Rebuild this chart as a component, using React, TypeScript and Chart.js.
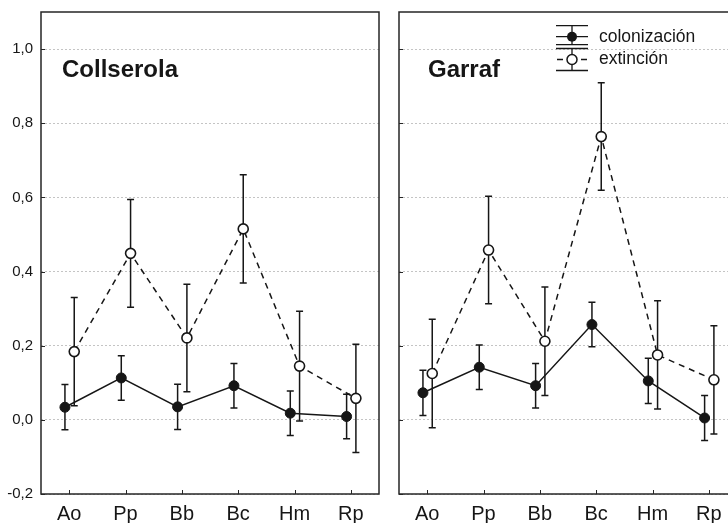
import React, { useEffect, useRef } from "react";
import { Chart, registerables } from "chart.js";

Chart.register(...registerables);

const categories = ["Ao", "Pp", "Bb", "Bc", "Hm", "Rp"];
const yTicks = [-0.2, 0, 0.2, 0.4, 0.6, 0.8, 1.0];
const yTickLabels = ["-0,2", "0,0", "0,2", "0,4", "0,6", "0,8", "1,0"];
const seriesNames = ["colonización", "extinción"];
const panelTitles = ["Collserola", "Garraf"];

const collserolaColMean = [0.034, 0.113, 0.035, 0.092, 0.018, 0.009];
const collserolaColErr = [0.061, 0.06, 0.061, 0.06, 0.06, 0.06];
const collserolaExtMean = [0.184, 0.449, 0.221, 0.515, 0.145, 0.058];
const collserolaExtErr = [0.146, 0.145, 0.145, 0.146, 0.148, 0.146];

const garrafColMean = [0.073, 0.142, 0.092, 0.257, 0.105, 0.005];
const garrafColErr = [0.061, 0.06, 0.06, 0.06, 0.061, 0.061];
const garrafExtMean = [0.125, 0.458, 0.212, 0.764, 0.175, 0.108];
const garrafExtErr = [0.146, 0.145, 0.146, 0.145, 0.146, 0.146];

const FONT = '"Liberation Sans", Arial, Helvetica, sans-serif';
const INK = "#161616";

type PanelCfg = {
  title: string;
  colMean: number[];
  colErr: number[];
  extMean: number[];
  extErr: number[];
  showYLabels: boolean;
  showLegend: boolean;
  canvasLeft: number;
  canvasWidth: number;
  yAxisWidth: number;
  padRight: number;
  titleDx: number;
};

function makeChart(canvas: HTMLCanvasElement, p: PanelCfg) {
  const colOffset = -0.075;
  const extOffset = 0.09;
  const decor = {
    id: "decor",
    beforeDatasetsDraw(chart: any) {
      const ctx = chart.ctx;
      const ys = chart.scales.y;
      ctx.save();
      ctx.strokeStyle = INK;
      ctx.lineWidth = 1.5;
      chart.data.datasets.forEach((ds: any, di: number) => {
        const meta = chart.getDatasetMeta(di);
        ds.errors.forEach((e: number, j: number) => {
          const pt = meta.data[j];
          const m = ds.data[j].y;
          const yt = ys.getPixelForValue(m + e);
          const yb = ys.getPixelForValue(m - e);
          const x = pt.x;
          ctx.beginPath();
          ctx.moveTo(x, yt);
          ctx.lineTo(x, yb);
          ctx.moveTo(x - 3.5, yt);
          ctx.lineTo(x + 3.5, yt);
          ctx.moveTo(x - 3.5, yb);
          ctx.lineTo(x + 3.5, yb);
          ctx.stroke();
        });
      });
      ctx.restore();
    },
    afterDraw(chart: any) {
      const ctx = chart.ctx;
      const a = chart.chartArea;
      const xs = chart.scales.x;
      const ys = chart.scales.y;
      ctx.save();
      ctx.strokeStyle = "#262626";
      ctx.lineWidth = 1.5;
      ctx.strokeRect(a.left, a.top, a.right - a.left, a.bottom - a.top);
      ctx.lineWidth = 1;
      ctx.beginPath();
      ys.ticks.forEach((t: any) => {
        const y = Math.round(ys.getPixelForValue(t.value)) + 0.5;
        ctx.moveTo(a.left, y);
        ctx.lineTo(a.left + 4, y);
      });
      xs.ticks.forEach((t: any) => {
        const x = Math.round(xs.getPixelForValue(t.value)) + 0.5;
        ctx.moveTo(x, a.bottom);
        ctx.lineTo(x, a.bottom - 4);
      });
      ctx.stroke();

      ctx.fillStyle = INK;
      ctx.font = `bold 24px ${FONT}`;
      ctx.textBaseline = "alphabetic";
      ctx.textAlign = "left";
      ctx.fillText(p.title, a.left + p.titleDx, 76.5);

      if (p.showLegend) {
        const cx = a.left + 173;
        const r1 = 36.7;
        const r2 = 59.5;
        ctx.strokeStyle = INK;
        ctx.lineWidth = 1.3;
        ctx.beginPath();
        ctx.moveTo(cx - 16, r1 - 11); ctx.lineTo(cx + 16, r1 - 11);
        ctx.moveTo(cx - 16, r1); ctx.lineTo(cx + 16, r1);
        ctx.moveTo(cx - 16, r1 + 8); ctx.lineTo(cx + 16, r1 + 8);
        ctx.moveTo(cx, r1 - 11); ctx.lineTo(cx, r1 + 8);
        ctx.moveTo(cx - 16, r2 - 11); ctx.lineTo(cx + 16, r2 - 11);
        ctx.moveTo(cx - 16, r2 + 11); ctx.lineTo(cx + 16, r2 + 11);
        ctx.moveTo(cx, r2 - 11); ctx.lineTo(cx, r2 + 11);
        ctx.moveTo(cx - 15, r2); ctx.lineTo(cx - 9, r2);
        ctx.moveTo(cx + 9, r2); ctx.lineTo(cx + 15, r2);
        ctx.stroke();
        ctx.fillStyle = INK;
        ctx.beginPath();
        ctx.arc(cx, r1, 5, 0, Math.PI * 2);
        ctx.fill();
        ctx.fillStyle = "#ffffff";
        ctx.lineWidth = 1.5;
        ctx.beginPath();
        ctx.arc(cx, r2, 5, 0, Math.PI * 2);
        ctx.fill();
        ctx.stroke();
        ctx.fillStyle = INK;
        ctx.font = `17.5px ${FONT}`;
        ctx.textBaseline = "middle";
        ctx.fillText(seriesNames[0], a.left + 200, r1);
        ctx.fillText(seriesNames[1], a.left + 200, r2);
      }
      ctx.restore();
    },
  };

  return new Chart(canvas, {
    type: "line",
    data: {
      datasets: [
        {
          label: seriesNames[0],
          data: p.colMean.map((m, i) => ({ x: i + colOffset, y: m })),
          errors: p.colErr,
          borderColor: INK,
          borderWidth: 1.5,
          pointRadius: 5,
          pointBackgroundColor: INK,
          pointBorderColor: INK,
          pointBorderWidth: 1,
          tension: 0,
        } as any,
        {
          label: seriesNames[1],
          data: p.extMean.map((m, i) => ({ x: i + extOffset, y: m })),
          errors: p.extErr,
          borderColor: INK,
          borderWidth: 1.5,
          borderDash: [6, 5],
          pointRadius: 5,
          pointBackgroundColor: "#ffffff",
          pointBorderColor: INK,
          pointBorderWidth: 1.6,
          tension: 0,
        } as any,
      ],
    },
    options: {
      responsive: false,
      animation: false,
      layout: { padding: { top: 12, right: p.padRight, left: 0, bottom: 0 } },
      plugins: { legend: { display: false }, tooltip: { enabled: false } },
      scales: {
        x: {
          type: "linear",
          min: -0.5,
          max: 5.5,
          afterBuildTicks: (s: any) => {
            s.ticks = categories.map((_, i) => ({ value: i }));
          },
          afterFit: (s: any) => {
            s.height = 29;
            s.paddingLeft = 0;
            s.paddingRight = 0;
          },
          grid: { display: false, drawTicks: false },
          border: { display: false },
          ticks: {
            padding: 8,
            color: INK,
            font: { family: FONT, size: 20 },
            maxRotation: 0,
            autoSkip: false,
            callback: (v: any, i: number) => categories[i],
          },
        },
        y: {
          type: "linear",
          min: -0.2,
          max: 1.1,
          afterBuildTicks: (s: any) => {
            s.ticks = yTicks.map((v) => ({ value: v }));
          },
          afterFit: (s: any) => {
            s.width = p.yAxisWidth;
            s.paddingTop = 0;
            s.paddingBottom = 0;
          },
          grid: {
            color: "#c4c4c4",
            lineWidth: 1,
            drawTicks: false,
          },
          border: { display: false, dash: [2, 2] },
          ticks: {
            display: p.showYLabels,
            padding: 8,
            color: INK,
            font: { family: FONT, size: 15 },
            callback: (v: any, i: number) => yTickLabels[i],
          },
        },
      },
    },
    plugins: [decor],
  } as any);
}

const panels: PanelCfg[] = [
  {
    title: panelTitles[0],
    colMean: collserolaColMean,
    colErr: collserolaColErr,
    extMean: collserolaExtMean,
    extErr: collserolaExtErr,
    showYLabels: true,
    showLegend: false,
    canvasLeft: 0,
    canvasWidth: 390,
    yAxisWidth: 41,
    padRight: 11,
    titleDx: 21,
  },
  {
    title: panelTitles[1],
    colMean: garrafColMean,
    colErr: garrafColErr,
    extMean: garrafExtMean,
    extErr: garrafExtErr,
    showYLabels: false,
    showLegend: true,
    canvasLeft: 380,
    canvasWidth: 400,
    yAxisWidth: 19,
    padRight: 43,
    titleDx: 29,
  },
];

function Panel({ cfg }: { cfg: PanelCfg }) {
  const ref = useRef<HTMLCanvasElement | null>(null);
  useEffect(() => {
    if (!ref.current) return;
    const c = makeChart(ref.current, cfg);
    return () => c.destroy();
  }, [cfg]);
  return (
    <canvas
      ref={ref}
      width={cfg.canvasWidth}
      height={523}
      style={{
        position: "absolute",
        left: cfg.canvasLeft,
        top: 0,
        width: cfg.canvasWidth,
        height: 523,
      }}
    />
  );
}

export default function App() {
  return (
    <div
      style={{
        position: "absolute",
        left: 0,
        top: 0,
        width: 728,
        height: 523,
        overflow: "hidden",
        background: "#ffffff",
      }}
    >
      {panels.map((p, i) => (
        <Panel key={i} cfg={p} />
      ))}
    </div>
  );
}
